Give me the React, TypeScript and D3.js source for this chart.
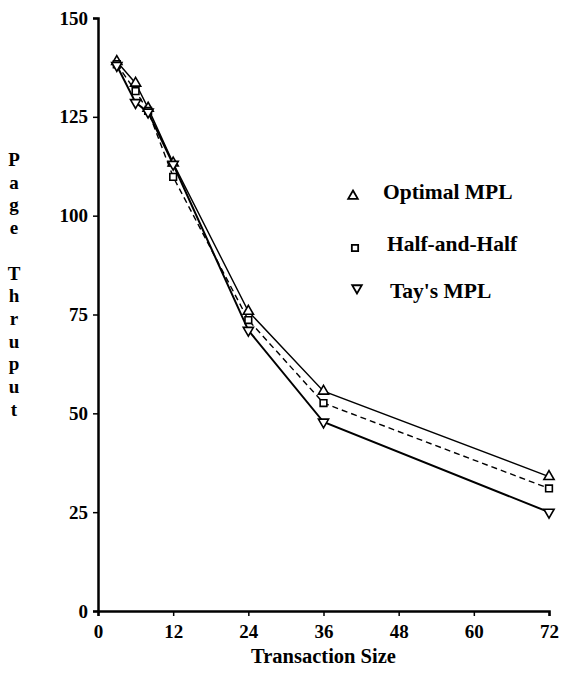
import React, { useEffect, useRef } from 'react';
import * as d3 from 'd3';

// transaction sizes on the x axis
const sizes = [3, 6, 8, 12, 24, 36, 72];

// page throughput per series
const optimalMpl = [139, 133.5, 127.2, 113.3, 75.8, 55.6, 34];
const halfAndHalf = [138.3, 131.5, 126.5, 109.8, 73.6, 52.6, 31];
const taysMpl = [138, 128.6, 126.2, 113, 71, 47.8, 25];

const xTicks = [0, 12, 24, 36, 48, 60, 72];
const yTicks = [0, 25, 50, 75, 100, 125, 150];
const yLabelLetters = ['P', 'a', 'g', 'e', '', 'T', 'h', 'r', 'u', 'p', 'u', 't'];

const FONT = '"Liberation Serif", "Times New Roman", serif';

const App = () => {
  const svgRef = useRef(null);

  useEffect(() => {
    const width = 561;
    const height = 675;
    const svg = d3.select(svgRef.current);
    svg.selectAll('*').remove();
    svg.attr('width', width).attr('height', height);

    const x = d3.scaleLinear().domain([0, 72]).range([98, 549]);
    const y = d3.scaleLinear().domain([0, 150]).range([611, 18]);

    // axes
    const yAxis = svg.append('g')
      .attr('transform', `translate(${x(0)},0)`)
      .call(d3.axisLeft(y).tickValues(yTicks).tickSize(5).tickPadding(5));
    const xAxis = svg.append('g')
      .attr('transform', `translate(0,${y(0)})`)
      .call(d3.axisBottom(x).tickValues(xTicks).tickSize(5).tickPadding(9));

    [yAxis, xAxis].forEach(g => {
      g.attr('font-family', FONT);
      g.select('.domain').attr('stroke', '#000').attr('stroke-width', 2.5);
      g.selectAll('.tick line').attr('stroke', '#000').attr('stroke-width', 1.5);
      g.selectAll('.tick text')
        .attr('fill', '#000')
        .style('font-family', FONT)
        .style('font-weight', 'bold')
        .style('font-size', '19px');
    });

    const series = [
      { name: 'Optimal MPL', values: optimalMpl, marker: 'up', dash: null, sw: 1.4 },
      { name: 'Half-and-Half', values: halfAndHalf, marker: 'square', dash: '6,4', sw: 1.4 },
      { name: "Tay's MPL", values: taysMpl, marker: 'down', dash: null, sw: 2 },
    ];

    const line = d3.line().x(d => x(d[0])).y(d => y(d[1]));

    series.forEach(s => {
      const pts = sizes.map((v, i) => [v, s.values[i]]);
      svg.append('path')
        .attr('d', line(pts))
        .attr('fill', 'none')
        .attr('stroke', '#000')
        .attr('stroke-width', s.sw)
        .attr('stroke-dasharray', s.dash);
    });

    const markerPath = (type, size) => {
      if (type === 'square') return d3.symbol(d3.symbolSquare, size)();
      return d3.symbol(d3.symbolTriangle, size)();
    };

    series.forEach(s => {
      svg.append('g').selectAll('path')
        .data(sizes.map((v, i) => [v, s.values[i]]))
        .enter()
        .append('path')
        .attr('d', markerPath(s.marker, 45))
        .attr('transform', d => `translate(${x(d[0])},${y(d[1])})${s.marker === 'down' ? ' rotate(180)' : ''}`)
        .attr('fill', '#fff')
        .attr('stroke', '#000')
        .attr('stroke-width', 1.6);
    });

    // legend
    const legendY = [196, 248, 288];
    const legendMarkerX = [353, 355, 357];
    const legendTextX = [383, 387, 390];
    series.forEach((s, i) => {
      svg.append('path')
        .attr('d', markerPath(s.marker, 40))
        .attr('transform', `translate(${legendMarkerX[i]},${legendY[i]})${s.marker === 'down' ? ' rotate(180)' : ''}`)
        .attr('fill', '#fff')
        .attr('stroke', '#000')
        .attr('stroke-width', 1.8);
      svg.append('text')
        .attr('x', legendTextX[i])
        .attr('y', legendY[i] + (i === 2 ? 10 : 3))
        .style('font-family', FONT)
        .style('font-weight', 'bold')
        .style('font-size', '21.5px')
        .text(s.name);
    });

    // axis titles
    svg.append('text')
      .attr('x', x(36))
      .attr('y', 663)
      .attr('text-anchor', 'middle')
      .style('font-family', FONT)
      .style('font-weight', 'bold')
      .style('font-size', '20.5px')
      .text('Transaction Size');

    svg.append('g').selectAll('text')
      .data(yLabelLetters)
      .enter()
      .append('text')
      .attr('x', 14)
      .attr('y', (d, i) => 166 + i * 22.7)
      .attr('text-anchor', 'middle')
      .style('font-family', FONT)
      .style('font-weight', 'bold')
      .style('font-size', '19px')
      .text(d => d);
  }, []);

  return (
    <svg
      ref={svgRef}
      style={{ position: 'absolute', left: 0, top: 0, background: '#fff' }}
    ></svg>
  );
};

export default App;
